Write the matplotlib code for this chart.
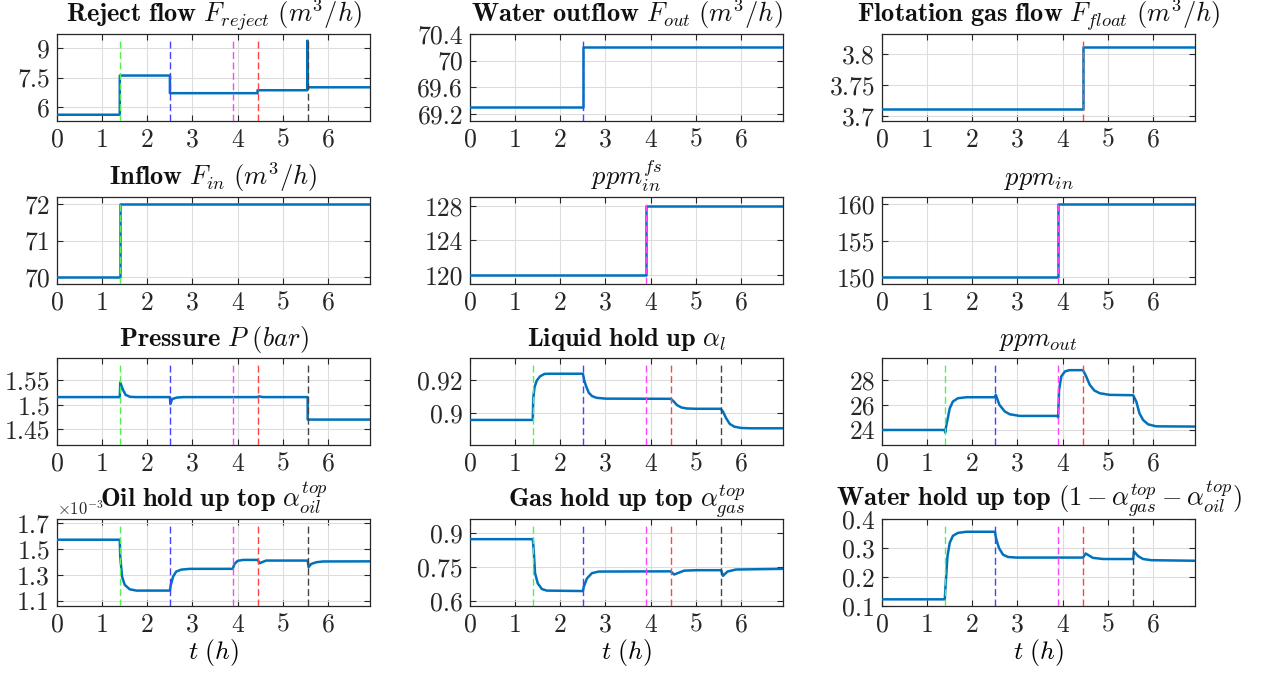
import matplotlib.pyplot as plt
from matplotlib.ticker import FormatStrFormatter

plt.rcParams['font.family'] = 'serif'
plt.rcParams['font.serif'] = ['cmr10']
plt.rcParams['mathtext.fontset'] = 'cm'
plt.rcParams['axes.unicode_minus'] = False

# event times (h) and the colour of each dashed marker
event_times = [1.39, 2.5, 3.89, 4.44, 5.55]
event_colors = ['#55ee55', '#4444ff', '#ff44ff', '#ff4444', '#444444']

# values, time in hours
t_reject = [0, 1.39, 1.39, 2.5, 2.5, 4.44, 4.44, 5.54, 5.545, 5.55, 6.93]
F_reject = [5.6, 5.6, 7.6, 7.6, 6.7, 6.7, 6.85, 6.85, 9.38, 7.0, 7.0]

t_out = [0, 2.5, 2.5, 6.93]
F_out = [69.3, 69.3, 70.2, 70.2]

t_float = [0, 4.44, 4.44, 6.93]
F_float = [3.712, 3.712, 3.811, 3.811]

t_in = [0, 1.39, 1.39, 6.93]
F_in = [70, 70, 72, 72]

t_ppm_fs = [0, 3.89, 3.89, 6.93]
ppm_in_fs = [120, 120, 128, 128]

t_ppm_in = [0, 3.89, 3.89, 6.93]
ppm_in = [150, 150, 160, 160]

t_pres = [0, 1.39, 1.40, 1.46, 1.52, 1.62, 1.75, 2.5, 2.51, 2.55, 2.65, 2.8,
          4.44, 4.47, 4.56, 5.55, 5.55, 6.93]
pres = [1.516, 1.516, 1.546, 1.531, 1.5205, 1.5165, 1.516, 1.516, 1.502, 1.512,
        1.515, 1.516, 1.516, 1.5175, 1.516, 1.516, 1.470, 1.470]

t_liq = [0, 1.39, 1.40, 1.43, 1.48, 1.55, 1.65, 1.8, 2.5, 2.53, 2.57, 2.63, 2.7,
         2.8, 3.0, 4.44, 4.5, 4.58, 4.68, 4.8, 5.0, 5.55, 5.6, 5.67, 5.75, 5.85,
         6.0, 6.2, 6.93]
alpha_l = [0.8959, 0.8959, 0.909, 0.916, 0.920, 0.9225, 0.924, 0.9241, 0.9241,
           0.920, 0.9165, 0.9125, 0.9105, 0.9094, 0.9089, 0.9088, 0.9075, 0.905,
           0.9035, 0.9029, 0.9027, 0.9027, 0.901, 0.897, 0.8935, 0.8918, 0.891,
           0.8908, 0.8908]

t_ppm_out = [0, 1.39, 1.40, 1.42, 1.5, 1.57, 1.68, 1.87, 2.5, 2.52, 2.6, 2.72,
             2.83, 3.05, 3.89, 3.9, 3.92, 3.97, 4.05, 4.15, 4.45, 4.52, 4.6, 4.7,
             4.82, 5.04, 5.56, 5.63, 5.7, 5.78, 5.89, 6.07, 6.93]
ppm_out = [24.0, 24.0, 23.8, 24.27, 25.73, 26.27, 26.53, 26.61, 26.61, 26.8,
           26.0, 25.47, 25.25, 25.12, 25.12, 25.0, 27.2, 28.27, 28.67, 28.77,
           28.77, 28.27, 27.6, 27.15, 26.93, 26.8, 26.77, 26.27, 25.33, 24.8,
           24.45, 24.29, 24.27]

# oil hold up in units of 1e-3
t_oil = [0, 1.39, 1.40, 1.44, 1.5, 1.61, 1.76, 2.5, 2.52, 2.57, 2.64, 2.75, 2.94,
         3.89, 3.93, 4.0, 4.12, 4.44, 4.49, 4.63, 5.55, 5.57, 5.63, 5.74, 5.89,
         6.93]
oil_top = [1.571, 1.571, 1.441, 1.286, 1.222, 1.188, 1.178, 1.178, 1.222, 1.286,
           1.325, 1.34, 1.346, 1.346, 1.384, 1.408, 1.415, 1.415, 1.39, 1.41,
           1.41, 1.359, 1.384, 1.397, 1.403, 1.404]

t_gas = [0, 1.39, 1.41, 1.44, 1.5, 1.59, 1.7, 2.5, 2.52, 2.59, 2.7, 2.85, 4.44,
         4.52, 4.74, 5.0, 5.56, 5.6, 5.7, 5.89, 6.93]
gas_top = [0.873, 0.873, 0.826, 0.723, 0.678, 0.653, 0.646, 0.644, 0.664, 0.70,
           0.723, 0.73, 0.731, 0.717, 0.734, 0.736, 0.736, 0.711, 0.730, 0.739,
           0.742]

t_wat = [0, 1.39, 1.41, 1.45, 1.5, 1.57, 1.68, 1.87, 2.5, 2.53, 2.59, 2.68,
         2.79, 2.97, 4.45, 4.51, 4.67, 4.9, 5.56, 5.58, 5.67, 5.78, 5.96, 6.93]
wat_top = [0.123, 0.123, 0.178, 0.272, 0.318, 0.342, 0.352, 0.356, 0.356, 0.33,
           0.30, 0.277, 0.269, 0.267, 0.267, 0.281, 0.266, 0.262, 0.262, 0.288,
           0.272, 0.262, 0.258, 0.256]

panels = [
    (r'$\mathbf{Reject\ flow}\ F_{reject}\ (m^3/h)$', t_reject, F_reject,
     (5.28, 9.72), [6, 7.5, 9], [0, 1, 2, 3, 4]),
    (r'$\mathbf{Water\ outflow}\ F_{out}\ (m^3/h)$', t_out, F_out,
     (69.09, 70.39), [69.2, 69.6, 70, 70.4], [1]),
    (r'$\mathbf{Flotation\ gas\ flow}\ F_{float}\ (m^3/h)$', t_float, F_float,
     (3.692, 3.832), [3.7, 3.75, 3.8], [3]),
    (r'$\mathbf{Inflow}\ F_{in}\ (m^3/h)$', t_in, F_in,
     (69.815, 72.19), [70, 71, 72], [0]),
    (r'$ppm_{in}^{fs}$', t_ppm_fs, ppm_in_fs,
     (118.96, 129.0), [120, 124, 128], [2]),
    (r'$ppm_{in}$', t_ppm_in, ppm_in,
     (149.07, 160.97), [150, 155, 160], [2]),
    (r'$\mathbf{Pressure}\ P\ (bar)$', t_pres, pres,
     (1.418, 1.596), [1.45, 1.5, 1.55], [0, 1, 2, 3, 4]),
    (r'$\mathbf{Liquid\ hold\ up}\ \alpha_l$', t_liq, alpha_l,
     (0.8806, 0.9337), [0.9, 0.92], [0, 1, 2, 3, 4]),
    (r'$ppm_{out}$', t_ppm_out, ppm_out,
     (22.8, 29.74), [24, 26, 28], [0, 1, 2, 3, 4]),
    (r'$\mathbf{Oil\ hold\ up\ top}\ \alpha_{oil}^{top}$', t_oil, oil_top,
     (1.059, 1.731), [1.1, 1.3, 1.5, 1.7], [0, 1, 2, 3, 4]),
    (r'$\mathbf{Gas\ hold\ up\ top}\ \alpha_{gas}^{top}$', t_gas, gas_top,
     (0.578, 0.962), [0.6, 0.75, 0.9], [0, 1, 2, 3, 4]),
    (r'$\mathbf{Water\ hold\ up\ top}\ (1-\alpha_{gas}^{top}-\alpha_{oil}^{top})$',
     t_wat, wat_top, (0.1, 0.4), [0.1, 0.2, 0.3, 0.4], [0, 1, 2, 3, 4]),
]

fig = plt.figure(figsize=(12.77, 6.74), dpi=100)
lefts = [57, 470, 882]
tops = [34, 197, 358, 519]
W, H = 1277.0, 674.0
axw, axh = 313, 87

for i, (title, t, y, ylim, yticks, shown) in enumerate(panels):
    r, c = divmod(i, 3)
    ax = fig.add_axes([lefts[c] / W, 1 - (tops[r] + axh) / H, axw / W, axh / H])
    ax.plot(t, y, color='#0072BD', lw=1.8, zorder=3)
    for k in shown:
        ax.axvline(event_times[k], ymin=0, ymax=0.94, color=event_colors[k],
                   lw=1.0, dashes=(5, 2.5), zorder=4)
    ax.set_xlim(0, 6.93)
    ax.set_ylim(*ylim)
    ax.set_xticks(range(7))
    ax.set_yticks(yticks)
    ax.yaxis.set_major_formatter(FormatStrFormatter('%g'))
    ax.grid(True, color='#dddddd', lw=0.8)
    ax.set_axisbelow(True)
    ax.tick_params(direction='in', top=True, right=True, labelsize=18.5,
                   colors='#262626', length=4, width=0.8, pad=5)
    for s in ax.spines.values():
        s.set_color('#262626')
        s.set_linewidth(0.9)
    ax.set_title(title, fontsize=19, pad=8.5, color='#111111')
    if r == 3:
        ax.set_xlabel(r'$t\ (h)$', fontsize=18.5, labelpad=0)
    if i == 9:
        ax.text(0.0, 1.01, r'$\times10^{-3}$', transform=ax.transAxes,
                fontsize=12, ha='left', va='bottom', color='#262626')

plt.savefig('out.png', dpi=100)
